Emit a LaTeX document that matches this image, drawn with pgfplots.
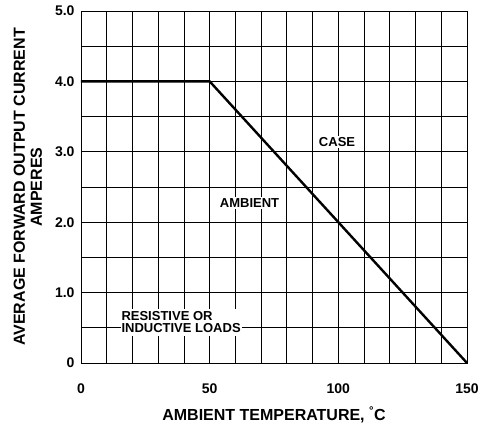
\documentclass[border=0pt]{standalone}
\usepackage{pgfplots}
\pgfplotsset{compat=1.18}
\usepackage{fontspec}
\setmainfont{Liberation Sans}
\usetikzlibrary{calc}
\begin{document}
\begin{tikzpicture}
\begin{axis}[
  scale only axis,
  width=386pt, height=352pt,
  xmin=0, xmax=150, ymin=0, ymax=5,
  xtick={0,50,100,150},
  minor xtick={10,20,30,40,60,70,80,90,110,120,130,140},
  ytick={0,1,2,3,4,5},
  yticklabels={0,1.0,2.0,3.0,4.0,5.0},
  xticklabels={0,50,100,150},
  minor ytick={0.5,1.5,2.5,3.5,4.5},
  grid=both,
  major grid style={black, line width=0.8pt},
  minor grid style={black, line width=0.8pt},
  axis line style={black, line width=0.8pt},
  major tick length=0pt, minor tick length=0pt,
  tick label style={font=\bfseries\fontsize{14}{16}\selectfont},
  xticklabel style={yshift=-17pt},
  yticklabel style={xshift=-3pt},
  xlabel={AMBIENT TEMPERATURE, \textsuperscript{\textdegree}C},
  xlabel style={font=\bfseries\fontsize{16}{18}\selectfont, yshift=-6pt},
  ylabel={AVERAGE FORWARD OUTPUT CURRENT\\AMPERES},
  ylabel style={font=\bfseries\fontsize{16}{17}\selectfont, align=center, yshift=6pt},
]
\addplot[black, line width=2.4pt] coordinates {(0,4) (50,4) (150,0)};
\node[fill=white, inner sep=1.5pt, font=\bfseries\fontsize{13}{12}\selectfont] at (axis cs:99.5,3.14) {CASE};
\node[fill=white, inner sep=1.5pt, font=\bfseries\fontsize{13}{12}\selectfont] at (axis cs:65.5,2.27) {AMBIENT};
\node[fill=white, inner xsep=1pt, inner ysep=2.5pt, align=left, font=\bfseries\fontsize{13}{12}\selectfont] at (axis cs:38.9,0.575) {RESISTIVE OR\\INDUCTIVE LOADS};
\end{axis}
\useasboundingbox ($(current axis.south west)+(-81pt,-66pt)$) rectangle ($(current axis.north east)+(23pt,11pt)$);
\end{tikzpicture}
\end{document}
